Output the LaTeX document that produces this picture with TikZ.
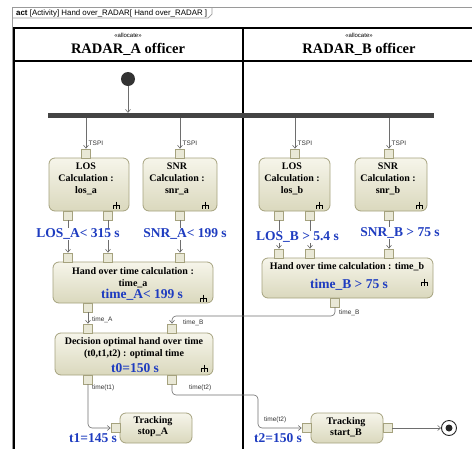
\documentclass[tikz,border=0pt]{standalone}
\usepackage{fontspec}
\setmainfont{Liberation Serif}
\setsansfont{Liberation Sans}
\usetikzlibrary{arrows.meta,calc}

\definecolor{framegray}{HTML}{9A9A9A}
\definecolor{actfillA}{HTML}{F6F5EA}
\definecolor{actfillB}{HTML}{DAD8BD}
\definecolor{actline}{HTML}{A5A27E}
\definecolor{flowgray}{HTML}{6E6E6E}
\definecolor{valblue}{HTML}{1E3CC0}
\definecolor{barfill}{HTML}{444444}

\tikzset{
  x=1pt, y=-1pt,
  action/.style={draw=actline, line width=0.8pt, rounded corners=6pt,
    top color=actfillA, bottom color=actfillB, inner sep=0pt},
  pinbox/.style={draw=actline, line width=0.7pt, fill=actfillA!55!actfillB,
    minimum width=9pt, minimum height=9pt, inner sep=0pt},
  flow/.style={draw=flowgray, line width=0.6pt,
    -{Straight Barb[length=3pt,width=5pt]}, rounded corners=4pt},
  boxtxt/.style={font=\bfseries\fontsize{10}{12}\selectfont, inner sep=0pt, align=center},
  valtxt/.style={font=\bfseries\fontsize{13.5}{15}\selectfont, text=valblue, inner sep=0pt},
  valmask/.style={valtxt, fill=white, inner sep=1pt},
  flowlbl/.style={font=\sffamily\fontsize{6.5}{7}\selectfont, text=black!80, inner sep=0pt, anchor=west},
  lane/.style={line width=1.2pt},
  rakeicon/.pic={\draw[line width=0.6pt] (0,-3.5) -- (0,0) (-3,3.5) -- (-3,0) -- (3,0) -- (3,3.5) (0,0) -- (0,3.5);},
}

\begin{document}
\begin{tikzpicture}
\useasboundingbox (0,0) rectangle (472,448);
\clip (0,0) rectangle (472,448);

% diagram frame with its name tab
\draw[framegray, line width=0.7pt] (12,452) -- (12,7.5) -- (475,7.5);
\draw[framegray, line width=0.7pt] (12,18) -- (208,18) -- (212,14) -- (212,7.5);
\node[anchor=west, font=\sffamily\fontsize{7.9}{9}\selectfont, inner sep=0pt] (tabtitle) at (16,13)
  {\textbf{act} [Activity] Hand over\_RADAR[ Hand over\_RADAR ]};

% swimlanes
\draw[lane] (14,452) -- (14,28) -- (475,28);
\draw[lane] (14,61) -- (475,61);
\draw[lane] (243,28) -- (243,452);
\node[font=\sffamily\fontsize{6}{7}\selectfont, inner sep=0pt] (allocA) at (128,35) {«allocate»};
\node[font=\bfseries\fontsize{14.5}{16}\selectfont, inner sep=0pt] (laneA) at (128,49) {RADAR\_A officer};
\node[font=\sffamily\fontsize{6}{7}\selectfont, inner sep=0pt] (allocB) at (359,35) {«allocate»};
\node[font=\bfseries\fontsize{14.5}{16}\selectfont, inner sep=0pt] (laneB) at (359,49) {RADAR\_B officer};

% initial node and fork
\node[circle, fill=black!80, minimum size=14pt, inner sep=0pt] (init) at (128,79) {};
\node[fill=barfill, minimum width=386pt, minimum height=5pt, inner sep=0pt] (fork) at (241,115.5) {};
\draw[flow] (init) -- (init |- fork.north);

% LOS / SNR calculations
\node[action, minimum width=80pt, minimum height=53pt] (losa) at (89,184.5) {};
\node[action, minimum width=74pt, minimum height=53pt] (snra) at (180,184.5) {};
\node[action, minimum width=71pt, minimum height=53pt] (losb) at (294.5,184.5) {};
\node[action, minimum width=72pt, minimum height=53pt] (snrb) at (391,184.5) {};
\node[boxtxt] (losa-t) at (86,179) {LOS\\Calculation :\\los\_a};
\node[boxtxt] (snra-t) at (177,179) {SNR\\Calculation :\\snr\_a};
\node[boxtxt] (losb-t) at (292,179) {LOS\\Calculation :\\los\_b};
\node[boxtxt] (snrb-t) at (388,179) {SNR\\Calculation :\\snr\_b};
\pic at (116,205) {rakeicon};
\pic at (205,205) {rakeicon};
\pic at (319,205) {rakeicon};
\pic at (419,205) {rakeicon};

\node[pinbox] (losa-in) at (86,153.5) {};
\node[pinbox] (snra-in) at (180,153.5) {};
\node[pinbox] (losb-in) at (295,153.5) {};
\node[pinbox] (snrb-in) at (389,153.5) {};
\node[pinbox] (losa-o1) at (68,215.5) {};
\node[pinbox] (losa-o2) at (108,215.5) {};
\node[pinbox] (snra-o) at (180,215.5) {};
\node[pinbox] (losb-o1) at (279,215.5) {};
\node[pinbox] (losb-o2) at (310,215.5) {};
\node[pinbox] (snrb-o) at (389,215.5) {};

\foreach \p in {losa-in,snra-in,losb-in,snrb-in}
  \draw[flow] (fork.south -| \p) -- (\p.north);
\node[flowlbl] (tspi1) at (88.5,143) {TSPI};
\node[flowlbl] (tspi2) at (182.5,143) {TSPI};
\node[flowlbl] (tspi3) at (297.5,143) {TSPI};
\node[flowlbl] (tspi4) at (391.5,143) {TSPI};

% hand over time calculations
\node[action, minimum width=160pt, minimum height=41pt] (hoa) at (133,282.5) {};
\node[action, minimum width=171pt, minimum height=40pt] (hob) at (347.5,278) {};
\node[boxtxt, font=\bfseries\fontsize{10}{11.5}\selectfont] (hoa-t) at (133,277.5) {Hand over time calculation :\\time\_a};
\node[valtxt] (hoa-v) at (142,295) {time\_A< 199 s};
\pic at (203,298) {rakeicon};
\node[boxtxt] (hob-t) at (347,267) {Hand over time calculation : time\_b};
\node[valtxt] (hob-v) at (349,285) {time\_B > 75 s};
\pic at (424,282) {rakeicon};

\node[pinbox] (hoa-in1) at (68,257.5) {};
\node[pinbox] (hoa-in2) at (108,257.5) {};
\node[pinbox] (hoa-in3) at (180,257.5) {};
\node[pinbox] (hob-in1) at (279,253.5) {};
\node[pinbox] (hob-in2) at (310,253.5) {};
\node[pinbox] (hob-in3) at (389,253.5) {};
\node[pinbox] (hoa-out) at (88,307.5) {};
\node[pinbox] (hob-out) at (335,302.5) {};

\draw[flow] (losa-o1.south) -- (hoa-in1.north);
\draw[flow] (losa-o2.south) -- (hoa-in2.north);
\draw[flow] (snra-o.south) -- (hoa-in3.north);
\draw[flow] (losb-o1.south) -- (hob-in1.north);
\draw[flow] (losb-o2.south) -- (hob-in2.north);
\draw[flow] (snrb-o.south) -- (hob-in3.north);

\node[valmask] (losa-v) at (78,234) {LOS\_A< 315 s};
\node[valmask] (snra-v) at (185,234) {SNR\_A< 199 s};
\node[valmask] (losb-v) at (297.5,237) {LOS\_B > 5.4 s};
\node[valmask] (snrb-v) at (400,233) {SNR\_B > 75 s};

% decision
\node[action, minimum width=158pt, minimum height=42pt] (dec) at (134,354) {};
\node[boxtxt] (dec-t) at (134,348) {Decision optimal hand over time\\(t0,t1,t2) : optimal time};
\node[valtxt] (dec-v) at (135,368) {t0=150 s};
\pic at (204,368) {rakeicon};
\node[pinbox] (dec-in1) at (88,328.5) {};
\node[pinbox] (dec-in2) at (172,328.5) {};
\node[pinbox] (dec-o1) at (88,379.5) {};
\node[pinbox] (dec-o2) at (172,379.5) {};

\coordinate (tbrow) at (0,316);
\draw[flow] (hoa-out.south) -- (dec-in1.north);
\node[flowlbl] (lblA) at (92,320) {time\_A};
\draw[flow] (hob-out.south) -- (hob-out.south |- tbrow) -- (dec-in2.north |- tbrow) -- (dec-in2.north);
\node[flowlbl] (lblB1) at (339,313) {time\_B};
\node[flowlbl] (lblB2) at (183,323) {time\_B};

% tracking
\node[action, minimum width=72pt, minimum height=30pt] (stopa) at (156,428) {};
\node[boxtxt, font=\bfseries\fontsize{10}{11}\selectfont] (stopa-t) at (153,427) {Tracking\\stop\_A};
\node[action, minimum width=72pt, minimum height=30pt] (startb) at (347,428) {};
\node[boxtxt, font=\bfseries\fontsize{10}{11}\selectfont] (startb-t) at (346,427) {Tracking\\start\_B};
\node[pinbox] (stopa-in) at (115.5,428) {};
\node[pinbox] (startb-in) at (306.5,428) {};
\node[pinbox] (startb-out) at (387.5,428) {};

\coordinate (t2bend) at (258,395);
\draw[flow] (dec-o1.south) |- (stopa-in.west);
\draw[flow] (dec-o2.south) |- (t2bend) |- (startb-in.west);
\node[flowlbl] (lblt1) at (92,388) {time(t1)};
\node[flowlbl] (lblt2a) at (189,388) {time(t2)};
\node[flowlbl] (lblt2b) at (264,420) {time(t2)};
\node[valtxt] (stopa-v) at (93,438) {t1=145 s};
\node[valtxt] (startb-v) at (278,438) {t2=150 s};

% final node
\node[circle, draw=black!85, line width=0.9pt, fill=white, minimum size=15pt, inner sep=0pt] (final) at (449,428) {};
\node[circle, fill=black!85, minimum size=7pt, inner sep=0pt] (finaldot) at (final) {};
\draw[flow] (startb-out.east) -- (final);
\end{tikzpicture}
\end{document}
